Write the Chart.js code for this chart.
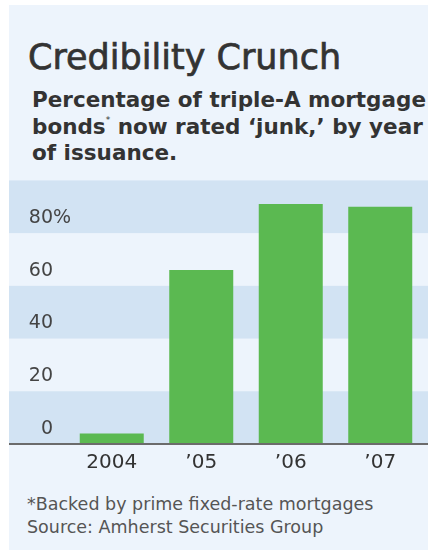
<!DOCTYPE html>
<html>
<head>
<meta charset="utf-8">
<script src="https://cdn.jsdelivr.net/npm/chart.js@4/dist/chart.umd.min.js"></script>
<style>
body{margin:0;background:#fff;font-family:"DejaVu Sans",Verdana,sans-serif;}
.panel{position:absolute;left:9px;top:5px;width:419px;height:545px;background:#EDF4FC;overflow:hidden;}
.title{position:absolute;left:19px;top:31px;font-size:35px;line-height:42px;color:#333;white-space:nowrap;-webkit-text-stroke:0.7px #333;}
.sub{position:absolute;left:23px;top:82px;font-size:21.5px;line-height:26.5px;font-weight:bold;color:#333;white-space:nowrap;}
.sub sup{font-size:9px;line-height:0;position:relative;top:-2px;font-weight:normal;}
.chartbox{position:absolute;left:0;top:150px;width:419px;height:329px;}
.note{position:absolute;left:18px;top:488px;font-size:17.5px;line-height:23px;color:#555;white-space:nowrap;}
</style>
</head>
<body>
<div class="panel">
  <div class="title">Credibility Crunch</div>
  <div class="sub">Percentage of triple-A mortgage<br>bonds<sup>*</sup> now rated ‘junk,’ by year<br>of issuance.</div>
  <div class="chartbox"><canvas id="myChart"></canvas></div>
  <div class="note">*Backed by prime fixed-rate mortgages<br>Source: Amherst Securities Group</div>
</div>
<script>
// データ
var years=['2004','\u201905','\u201906','\u201907'];
var junk_pct=[4,66,91,90];
var y_ticks=[0,20,40,60,80,100];

var band_dark='#D2E3F3';
var label_font={family:'"DejaVu Sans"',size:19};

// 帯と軸線
var bandPlugin={
    id:'bands',
    beforeDraw:function(chart){
        var ctx=chart.ctx;
        var ys=chart.scales.y;
        ctx.save();
        ctx.fillStyle=band_dark;
        for(var i=0;i<y_ticks.length-1;i+=2){
            var top=ys.getPixelForValue(y_ticks[i+1]);
            var bot=ys.getPixelForValue(y_ticks[i]);
            ctx.fillRect(0,top,chart.width,bot-top);
        }
        ctx.restore();
    },
    afterDatasetsDraw:function(chart){
        var ctx=chart.ctx;
        var y0=chart.scales.y.getPixelForValue(0);
        ctx.save();
        ctx.strokeStyle='#6b6b6b';
        ctx.lineWidth=2;
        ctx.beginPath();
        ctx.moveTo(0,y0);
        ctx.lineTo(chart.width,y0);
        ctx.stroke();
        ctx.restore();
    },
    afterDraw:function(chart){
        // 80の後ろに%
        var ctx=chart.ctx;
        var ys=chart.scales.y;
        ctx.save();
        ctx.font=label_font.size+'px '+label_font.family;
        ctx.fillStyle='#444';
        ctx.textAlign='left';
        ctx.textBaseline='middle';
        ctx.fillText('%',chart.chartArea.left-14,ys.getPixelForValue(80)-15);
        ctx.restore();
    }
};

var ctx=document.getElementById('myChart');
var myChart=new Chart(ctx,{
    type:'bar',
    data:{
        labels:years,
        datasets:[{
            data:junk_pct,
            backgroundColor:'#5BB951',
            borderWidth:0,
            barPercentage:1,
            categoryPercentage:0.715
        }]
    },
    options:{
        responsive:true,
        maintainAspectRatio:false,
        animation:false,
        layout:{padding:{top:5,right:3,left:0,bottom:0}},
        plugins:{legend:{display:false},tooltip:{enabled:false}},
        scales:{
            x:{
                grid:{display:false,drawTicks:false},
                border:{display:false},
                ticks:{font:{family:'"DejaVu Sans"',size:20},color:'#333',padding:7},
                afterFit:function(s){s.height=40;}
            },
            y:{
                min:0,max:100,
                grid:{display:false,drawTicks:false},
                border:{display:false},
                ticks:{
                    stepSize:20,
                    padding:14,
                    labelOffset:-15,
                    font:label_font,
                    color:'#444',
                    callback:function(v){return v===100?'':v;}
                },
                afterFit:function(s){s.width=58;}
            }
        }
    },
    plugins:[bandPlugin]
});
</script>
</body>
</html>
